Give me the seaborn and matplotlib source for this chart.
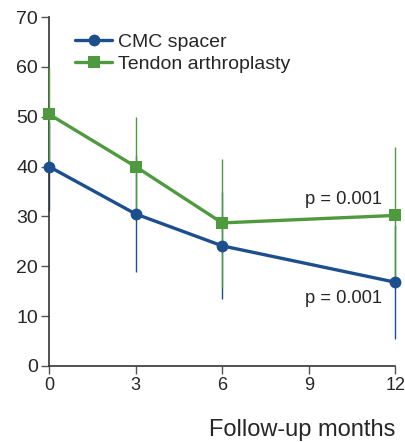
import matplotlib
matplotlib.use("Agg")
import matplotlib.pyplot as plt
import seaborn as sns
import pandas as pd

sns.set_style("ticks")
plt.rcParams['font.family'] = ['Liberation Sans', 'DejaVu Sans']

months = [0, 3, 6, 12]
cmc_mean = [40.0, 30.5, 24.1, 16.8]
cmc_err = [9.0, 11.6, 10.7, 11.4]
tendon_mean = [50.5, 40.0, 28.7, 30.2]
tendon_err = [9.5, 10.0, 12.8, 13.7]
groups = ["CMC spacer", "Tendon arthroplasty"]
colors = {"CMC spacer": "#1c4f8c", "Tendon arthroplasty": "#4f9a3f"}

df = pd.DataFrame({
    "month": months * 2,
    "score": cmc_mean + tendon_mean,
    "group": [groups[0]] * 4 + [groups[1]] * 4,
})

fig = plt.figure(figsize=(4.06, 4.42), dpi=100)
ax = fig.add_axes([0.1207, 0.172, 0.853, 0.7895])

ax.errorbar(months, cmc_mean, yerr=cmc_err, fmt="none", ecolor=colors[groups[0]],
            elinewidth=1.0, capsize=0, zorder=2, clip_on=False)
ax.errorbar(months, tendon_mean, yerr=tendon_err, fmt="none", ecolor=colors[groups[1]],
            elinewidth=1.0, capsize=0, zorder=3, clip_on=False)

sns.lineplot(data=df, x="month", y="score", hue="group", style="group",
             markers={"CMC spacer": "o", "Tendon arthroplasty": "s"}, dashes=False,
             palette=colors, linewidth=2.4, markersize=8.5, markeredgewidth=0,
             ax=ax, zorder=4, clip_on=False)

ax.text(11.55, 33.3, "p = 0.001", fontsize=13.2, ha="right", va="center")
ax.text(11.55, 13.6, "p = 0.001", fontsize=13.2, ha="right", va="center")

ax.set_xlim(0, 12)
ax.set_ylim(0, 70)
ax.set_xticks([0, 3, 6, 9, 12])
ax.set_yticks(range(0, 71, 10))
ax.tick_params(axis="both", labelsize=14, length=6, width=1, color="#555555",
               direction="out", pad=2)
ax.tick_params(axis="x", labelsize=13)
ax.set_ylabel("")
ax.set_xlabel("Follow-up months", fontsize=17, loc="right", labelpad=18)
sns.despine(ax=ax)
for s in ["left", "bottom"]:
    ax.spines[s].set_linewidth(1.2)
    ax.spines[s].set_color("#333333")

ax.legend(title=None, frameon=False, fontsize=14, loc="upper left",
          bbox_to_anchor=(0.054, 0.975), handlelength=1.9, handletextpad=0.3,
          labelspacing=0.2, borderaxespad=0)

fig.savefig("out.png", dpi=100)
